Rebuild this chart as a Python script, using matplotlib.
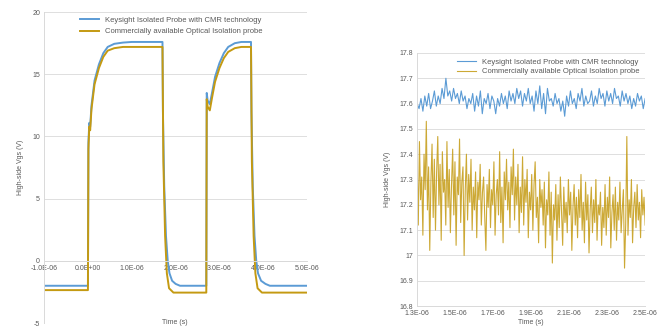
import matplotlib
matplotlib.use("Agg")
import matplotlib.pyplot as plt
import numpy as np

plt.rcParams['font.family'] = ['Liberation Sans', 'DejaVu Sans']

# ---- left chart: full switching waveform (time in us, Vgs in V)
t_cmr = [-1.0, -0.001, 0.01, 0.03, 0.05, 0.08, 0.15, 0.25, 0.35, 0.45, 0.6, 0.8, 1.0, 1.70,
         1.71, 1.74, 1.78, 1.82, 1.86, 1.92, 2.0, 2.1, 2.70,
         2.71, 2.73, 2.78, 2.83, 2.9, 3.0, 3.1, 3.2, 3.35, 3.5, 3.72,
         3.73, 3.76, 3.8, 3.84, 3.88, 3.95, 4.05, 4.15, 5.0]
v_cmr = [-2.0, -2.0, 9.5, 11.1, 10.8, 12.5, 14.5, 15.8, 16.7, 17.2, 17.45, 17.55, 17.6, 17.6,
         12.0, 6.0, 2.0, 0.0, -1.0, -1.6, -1.85, -2.0, -2.0,
         13.5, 12.9, 12.6, 13.5, 14.8, 15.9, 16.7, 17.2, 17.5, 17.6, 17.6,
         12.0, 6.0, 2.0, 0.0, -1.0, -1.6, -1.85, -2.0, -2.0]

t_opt = [-1.0, -0.001, 0.01, 0.03, 0.05, 0.08, 0.15, 0.25, 0.35, 0.45, 0.6, 0.8, 1.0, 1.70,
         1.72, 1.76, 1.80, 1.85, 1.95, 2.70,
         2.71, 2.73, 2.78, 2.83, 2.9, 3.0, 3.1, 3.2, 3.35, 3.5, 3.72,
         3.74, 3.78, 3.82, 3.87, 3.97, 5.0]
v_opt = [-2.35, -2.35, 9.0, 10.8, 10.5, 12.2, 14.2, 15.5, 16.4, 16.9, 17.1, 17.2, 17.2, 17.2,
         8.0, 2.0, -1.0, -2.2, -2.55, -2.55,
         13.0, 12.4, 12.1, 13.1, 14.4, 15.5, 16.3, 16.8, 17.1, 17.2, 17.2,
         8.0, 2.0, -1.0, -2.2, -2.55, -2.55]

x_ticks = [-1.0, 0.0, 1.0, 2.0, 3.0, 4.0, 5.0]
x_labels = ['-1.0E-06', '0.0E+00', '1.0E-06', '2.0E-06', '3.0E-06', '4.0E-06', '5.0E-06']
y_ticks = [-5, 0, 5, 10, 15, 20]

# ---- right chart: plateau zoom
zoom_cmr = [17.60, 17.58, 17.62, 17.57, 17.63, 17.59, 17.64, 17.58, 17.61, 17.65,
            17.59, 17.63, 17.60, 17.66, 17.62, 17.70, 17.63, 17.65, 17.61, 17.66,
            17.62, 17.64, 17.60, 17.65, 17.61, 17.63, 17.58, 17.62, 17.60, 17.64,
            17.57, 17.63, 17.59, 17.65, 17.56, 17.62, 17.60, 17.64, 17.58, 17.63,
            17.61, 17.56, 17.62, 17.59, 17.64, 17.60, 17.63, 17.58, 17.65, 17.61,
            17.64, 17.60, 17.66, 17.62, 17.65, 17.59, 17.64, 17.61, 17.66, 17.60,
            17.63, 17.57, 17.65, 17.60, 17.67, 17.58, 17.64, 17.56, 17.66, 17.61,
            17.62, 17.59, 17.64, 17.60, 17.62, 17.57, 17.61, 17.55, 17.63, 17.59,
            17.65, 17.60, 17.62, 17.58, 17.64, 17.61, 17.66, 17.59, 17.63, 17.60,
            17.61, 17.65, 17.59, 17.63, 17.60, 17.66, 17.62, 17.64, 17.59, 17.65,
            17.61, 17.64, 17.60, 17.66, 17.62, 17.63, 17.59, 17.65, 17.61, 17.64,
            17.60, 17.63, 17.58, 17.62, 17.59, 17.64, 17.61, 17.63, 17.58, 17.62]

zoom_opt = [17.38, 17.12, 17.45, 17.22, 17.31, 17.08, 17.40, 17.26, 17.53, 17.18,
            17.35, 17.02, 17.29, 17.44, 17.15, 17.38, 17.10, 17.33, 17.47, 17.20,
            17.36, 17.06, 17.41, 17.25, 17.30, 17.12, 17.45, 17.19, 17.34, 17.09,
            17.28, 17.42, 17.16, 17.37, 17.04, 17.31, 17.24, 17.46, 17.13, 17.29,
            17.35, 17.00, 17.26, 17.40, 17.14, 17.32, 17.21, 17.38, 17.10, 17.27,
            17.18, 17.33, 17.07, 17.29, 17.22, 17.36, 17.12, 17.25, 17.31, 17.15,
            17.02, 17.28, 17.19, 17.34, 17.11, 17.26, 17.20, 17.37, 17.08, 17.24,
            17.30, 17.16, 17.41, 17.13, 17.27, 17.05, 17.33, 17.22, 17.38, 17.18,
            17.29, 17.11, 17.35, 17.24, 17.42, 17.14, 17.31, 17.20, 17.36, 17.09,
            17.27, 17.17, 17.39, 17.12, 17.30, 17.21, 17.34, 17.07, 17.25, 17.18,
            17.32, 17.10, 17.28, 17.37, 17.15, 17.23, 17.05, 17.30, 17.19, 17.26,
            17.12, 17.29, 17.03, 17.22, 17.16, 17.33, 17.08, 17.25, 16.97, 17.20,
            17.14, 17.28, 17.06, 17.24, 17.11, 17.31, 17.17, 17.04, 17.27, 17.13,
            17.21, 17.09, 17.30, 17.16, 17.25, 17.02, 17.19, 17.28, 17.12, 17.23,
            17.07, 17.26, 17.15, 17.32, 17.10, 17.21, 17.05, 17.29, 17.14, 17.24,
            17.01, 17.18, 17.27, 17.09, 17.22, 17.13, 17.30, 17.06, 17.20, 17.16,
            17.25, 17.04, 17.19, 17.11, 17.28, 17.08, 17.23, 17.15, 17.31, 17.03,
            17.17, 17.24, 17.10, 17.27, 17.06, 17.21, 17.14, 17.29, 17.09, 17.18,
            17.26, 16.95, 17.12, 17.47, 17.08, 17.22, 17.15, 17.30, 17.05, 17.19,
            17.25, 17.11, 17.28, 17.14, 17.21, 17.07, 17.26, 17.16, 17.23, 17.12]

zoom_t0, zoom_t1 = 1.3, 2.5   # us
zx_ticks = [1.3, 1.5, 1.7, 1.9, 2.1, 2.3, 2.5]
zx_labels = ['1.3E-06', '1.5E-06', '1.7E-06', '1.9E-06', '2.1E-06', '2.3E-06', '2.5E-06']
zy_ticks = [16.8, 16.9, 17.0, 17.1, 17.2, 17.3, 17.4, 17.5, 17.6, 17.7, 17.8]

names = ['Keysight Isolated Probe with CMR technology',
         'Commercially available Optical Isolation probe']
blue = '#5B9BD5'
gold = '#C49A12'
grid_c = '#D9D9D9'
txt_c = '#595959'
fs = 5

fig = plt.figure(figsize=(6.59, 3.27), dpi=100)

# left
ax1 = fig.add_axes([0.067, 0.012, 0.399, 0.951])
ax1.plot(t_cmr, v_cmr, color=blue, lw=1.4, label=names[0])
ax1.plot(t_opt, v_opt, color=gold, lw=1.4, label=names[1])
ax1.set_xlim(-1.0, 5.0)
ax1.set_ylim(-5, 20)
ax1.set_yticks(y_ticks)
ax1.set_yticklabels([str(v) for v in y_ticks])
ax1.set_xticks(x_ticks)
ax1.set_xticklabels(x_labels)
ax1.spines['bottom'].set_position(('data', 0))
ax1.set_ylabel('High-side Vgs (V)', fontsize=fs, color=txt_c, labelpad=6)
ax1.legend(loc='upper left', bbox_to_anchor=(0.12, 1.0), frameon=False,
           fontsize=5.5, handlelength=2.5, labelcolor=txt_c, borderaxespad=0.2,
           labelspacing=0.5)

# right
ax2 = fig.add_axes([0.633, 0.064, 0.346, 0.774])
zt_cmr = np.linspace(zoom_t0, zoom_t1, len(zoom_cmr))
zt_opt = np.linspace(zoom_t0, zoom_t1, len(zoom_opt))
ax2.plot(zt_cmr, zoom_cmr, color=blue, lw=0.8, label=names[0])
ax2.plot(zt_opt, zoom_opt, color=gold, lw=0.8, alpha=0.85, label=names[1])
ax2.set_xlim(zoom_t0, zoom_t1)
ax2.set_ylim(16.8, 17.8)
ax2.set_yticks(zy_ticks)
ax2.set_yticklabels([f'{v:g}' for v in zy_ticks])
ax2.set_xticks(zx_ticks)
ax2.set_xticklabels(zx_labels)
ax2.set_ylabel('High-side Vgs (V)', fontsize=fs, color=txt_c, labelpad=6)
ax2.legend(loc='upper right', frameon=False, fontsize=5.5, handlelength=2.5,
           labelcolor=txt_c, borderaxespad=0.3, labelspacing=0.3)

for ax in (ax1, ax2):
    ax.grid(axis='y', color=grid_c, lw=0.6)
    ax.set_axisbelow(True)
    for s in ('top', 'right'):
        ax.spines[s].set_visible(False)
    for s in ('left', 'bottom'):
        ax.spines[s].set_color(grid_c)
        ax.spines[s].set_linewidth(0.7)
    ax.tick_params(length=0, labelsize=fs, labelcolor=txt_c, pad=3)

fig.text(0.266, 0.003, 'Time (s)', fontsize=fs, color=txt_c, ha='center', va='bottom')
fig.text(0.806, 0.003, 'Time (s)', fontsize=fs, color=txt_c, ha='center', va='bottom')

fig.savefig('out.png', dpi=100)
